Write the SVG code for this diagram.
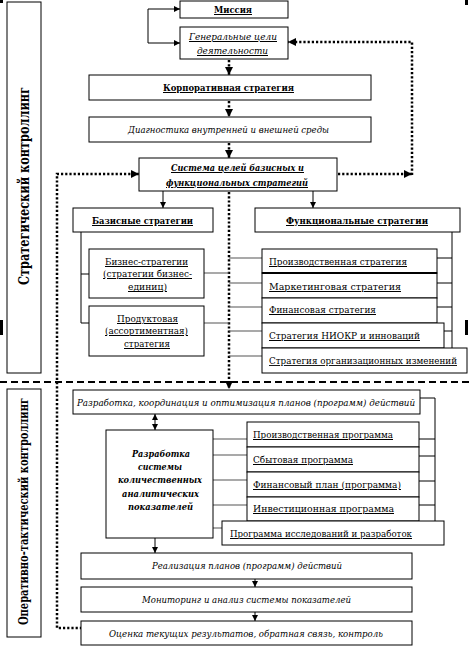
<svg xmlns="http://www.w3.org/2000/svg" width="470" height="653" viewBox="0 0 470 653" font-family="'DejaVu Serif', serif">
<defs>
<marker id="ah" viewBox="0 0 10 10" refX="10" refY="5" markerWidth="6" markerHeight="6" orient="auto-start-reverse" markerUnits="userSpaceOnUse"><path d="M0,0 L10,5 L0,10 z" fill="#000"/></marker>
<marker id="ahb" viewBox="0 0 10 10" refX="10" refY="5" markerWidth="8" markerHeight="8" orient="auto-start-reverse" markerUnits="userSpaceOnUse"><path d="M0,0 L10,5 L0,10 z" fill="#000"/></marker>
<style>
rect.b{fill:#fff;stroke:#000;stroke-width:1}
text{font-family:"DejaVu Serif","Liberation Serif",serif;font-size:10px;fill:#000}
.c{text-anchor:middle}
.u{text-decoration:underline}
.bd{font-weight:bold}
.it{font-style:italic}
.ln{fill:none;stroke:#000;stroke-width:1}
.gr{fill:none;stroke:#555;stroke-width:1.2}
.dot{fill:none;stroke:#000;stroke-width:2.5;stroke-dasharray:2.2 2}
.dash{fill:none;stroke:#000;stroke-width:2;stroke-dasharray:7 4}
.side{font-weight:bold;font-size:14px}
</style>
</defs>
<rect width="470" height="653" fill="#fff"/>

<g id="marks">
<rect x="0" y="0" width="3" height="3" fill="#000"/>
<rect x="465" y="0" width="3" height="5" fill="#000"/>
<rect x="0" y="320" width="3" height="15" fill="#000"/>
<rect x="465" y="320" width="3" height="15" fill="#000"/>
</g>

<g id="connectors">
<path class="dash" d="M0 382 H470"/>
<path class="ln" d="M148 9 V43" />
<path class="ln" d="M148 9 H180" marker-end="url(#ah)"/>
<path class="ln" d="M148 43 H180" marker-end="url(#ah)"/>
<path class="dot" d="M229 60 V75" marker-end="url(#ahb)"/>
<path class="dot" d="M229 101 V117" marker-end="url(#ahb)"/>
<path class="dot" d="M229 143 V158" marker-end="url(#ahb)"/>
<path class="dot" d="M229 192 V389" marker-end="url(#ahb)"/>
<path class="dot" d="M412 175 V42 H288" marker-end="url(#ahb)"/>
<path class="dot" d="M338 174 H412" marker-end="url(#ahb)"/>
<path class="dot" d="M82 628 H57 V174 H139" marker-end="url(#ahb)"/>
<path class="ln" d="M163 191 V208" marker-end="url(#ah)"/>
<path class="ln" d="M313 191 V208" marker-end="url(#ah)"/>
<path class="ln" d="M81 232 V323 M81 274 H89 M81 323 H89"/>
<path class="gr" d="M204 273 H229 M204 323 H229 M229 258 H262 M229 283 H262 M229 307 H262 M229 331 H262 M229 356 H262"/>
<path class="ln" d="M452 232 V348 M437 258 H452 M437 283 H452 M437 307 H452 M444 331 H452"/>
<path class="ln" d="M155 414 V430" marker-start="url(#ah)" marker-end="url(#ah)"/>
<path class="ln" d="M420 398 H435 V521 M419 439 H435 M419 456 H435 M419 481 H435 M419 505 H435"/>
<path class="gr" d="M213 439 H247 M213 455 H247 M213 480 H247 M213 505 H247 M213 528 H222"/>
<path class="ln" d="M155 538 V553" marker-end="url(#ah)"/>
<path class="ln" d="M255 579 V587" marker-end="url(#ah)"/>
<path class="ln" d="M255 612 V621" marker-end="url(#ah)"/>
</g>

<g id="side-strategic">
<rect class="b" x="7" y="2" width="34" height="371"/>
<text class="c side" transform="translate(29 186) rotate(-90)" textLength="198" lengthAdjust="spacingAndGlyphs">Стратегический контроллинг</text>
</g>
<g id="side-operative">
<rect class="b" x="7" y="389" width="34" height="248"/>
<text class="c side" style="font-size:12.5px" transform="translate(28 511.5) rotate(-90)" textLength="227" lengthAdjust="spacingAndGlyphs">Оперативно-тактический контроллинг</text>
</g>

<g id="mission"><rect class="b" x="180" y="1" width="108" height="17"/><text class="c bd u" x="233" y="13" textLength="38" lengthAdjust="spacingAndGlyphs">Миссия</text></g>
<g id="goals"><rect class="b" x="180" y="27" width="108" height="32"/><text class="c it u" x="233" y="40" textLength="88" lengthAdjust="spacingAndGlyphs">Генеральные цели</text><text class="c it u" x="232.5" y="54" textLength="71" lengthAdjust="spacingAndGlyphs">деятельности</text></g>
<g id="corporate"><rect class="b" x="89" y="75" width="282" height="25"/><text class="c bd u" x="228.5" y="91" textLength="131" lengthAdjust="spacingAndGlyphs">Корпоративная стратегия</text></g>
<g id="diagnostics"><rect class="b" x="89" y="117" width="282" height="25"/><text class="c it" x="228.5" y="133" textLength="201" lengthAdjust="spacingAndGlyphs">Диагностика внутренней и внешней среды</text></g>
<g id="goal-system"><rect class="b" x="139" y="158" width="198" height="33"/><text class="c it u bd" x="237.5" y="171" textLength="133" lengthAdjust="spacingAndGlyphs">Система целей базисных и</text><text class="c it u bd" x="237" y="186" textLength="142" lengthAdjust="spacingAndGlyphs">функциональных стратегий</text></g>
<g id="basic"><rect class="b" x="73" y="208" width="140" height="24"/><text class="c bd u" x="142.5" y="224" textLength="101" lengthAdjust="spacingAndGlyphs">Базисные стратегии</text></g>
<g id="functional"><rect class="b" x="255" y="208" width="205" height="24"/><text class="c bd u" x="357" y="224" textLength="142" lengthAdjust="spacingAndGlyphs">Функциональные стратегии</text></g>
<g id="business"><rect class="b" x="89" y="249" width="115" height="49"/><text class="c u" x="146.5" y="265" textLength="83" lengthAdjust="spacingAndGlyphs">Бизнес-стратегии</text><text class="c u" x="147.5" y="277" textLength="89" lengthAdjust="spacingAndGlyphs">(стратегии бизнес-</text><text class="c u" x="147.5" y="290" textLength="39" lengthAdjust="spacingAndGlyphs">единиц)</text></g>
<g id="product"><rect class="b" x="89" y="306" width="115" height="50"/><text class="c u" x="147.5" y="322" textLength="61" lengthAdjust="spacingAndGlyphs">Продуктовая</text><text class="c u" x="146.5" y="334" textLength="83" lengthAdjust="spacingAndGlyphs">(ассортиментная)</text><text class="c u" x="147" y="347" textLength="46" lengthAdjust="spacingAndGlyphs">стратегия</text></g>
<g id="f-production"><rect class="b" x="262" y="249" width="175" height="24"/><text class="u" x="269" y="265" textLength="138" lengthAdjust="spacingAndGlyphs">Производственная стратегия</text></g>
<g id="f-marketing"><rect class="b" x="262" y="273" width="175" height="25"/><text class="u" x="269" y="290" textLength="132" lengthAdjust="spacingAndGlyphs">Маркетинговая стратегия</text></g>
<g id="f-finance"><rect class="b" x="262" y="298" width="175" height="25"/><text class="u" x="269" y="313" textLength="107" lengthAdjust="spacingAndGlyphs">Финансовая стратегия</text></g>
<g id="f-rnd"><rect class="b" x="262" y="323" width="182" height="25"/><text class="u" x="269" y="339" textLength="151" lengthAdjust="spacingAndGlyphs">Стратегия НИОКР и инноваций</text></g>
<g id="f-org"><rect class="b" x="262" y="348" width="205" height="25"/><text class="u" x="269" y="364" style="font-size:9px" textLength="188" lengthAdjust="spacingAndGlyphs">Стратегия организационных изменений</text></g>
<path d="M262 273 H437" stroke="#000" stroke-width="2"/>

<g id="planning"><rect class="b" x="73" y="390" width="347" height="24"/><text class="c it" x="246" y="406" textLength="338" lengthAdjust="spacingAndGlyphs">Разработка, координация  и оптимизация планов (программ) действий</text></g>
<g id="indicators"><rect class="b" x="106" y="430" width="107" height="108"/>
<text class="c it bd" x="161" y="457" textLength="58" lengthAdjust="spacingAndGlyphs">Разработка</text><text class="c it bd" x="160" y="470" textLength="44" lengthAdjust="spacingAndGlyphs">системы</text><text class="c it bd" x="160" y="483" textLength="84" lengthAdjust="spacingAndGlyphs">количественных</text><text class="c it bd" x="160.5" y="497" textLength="77" lengthAdjust="spacingAndGlyphs">аналитических</text><text class="c it bd" x="160.5" y="510" textLength="65" lengthAdjust="spacingAndGlyphs">показателей</text></g>
<g id="p-production"><rect class="b" x="247" y="422" width="172" height="25"/><text class="u" x="253" y="438" textLength="140" lengthAdjust="spacingAndGlyphs">Производственная программа</text></g>
<g id="p-sales"><rect class="b" x="247" y="447" width="172" height="25"/><text class="u" x="253" y="463" textLength="100" lengthAdjust="spacingAndGlyphs">Сбытовая программа</text></g>
<g id="p-finance"><rect class="b" x="247" y="472" width="172" height="25"/><text class="u" x="253" y="488" textLength="148" lengthAdjust="spacingAndGlyphs">Финансовый план (программа)</text></g>
<g id="p-invest"><rect class="b" x="247" y="497" width="172" height="24"/><text class="u" x="253" y="512" textLength="141" lengthAdjust="spacingAndGlyphs">Инвестиционная программа</text></g>
<g id="p-research"><rect class="b" x="222" y="521" width="222" height="24"/><text class="u" x="230" y="537" textLength="182" lengthAdjust="spacingAndGlyphs">Программа исследований и разработок</text></g>
<g id="implementation"><rect class="b" x="81" y="553" width="331" height="26"/><text class="c it" x="247" y="569" textLength="190" lengthAdjust="spacingAndGlyphs">Реализация планов (программ) действий</text></g>
<g id="monitoring"><rect class="b" x="81" y="587" width="331" height="25"/><text class="c it" x="246.5" y="603" textLength="209" lengthAdjust="spacingAndGlyphs">Мониторинг и анализ системы показателей</text></g>
<g id="evaluation"><rect class="b" x="81" y="621" width="331" height="24"/><text class="c it" x="246" y="637" textLength="274" lengthAdjust="spacingAndGlyphs">Оценка текущих  результатов, обратная связь, контроль</text></g>
</svg>
